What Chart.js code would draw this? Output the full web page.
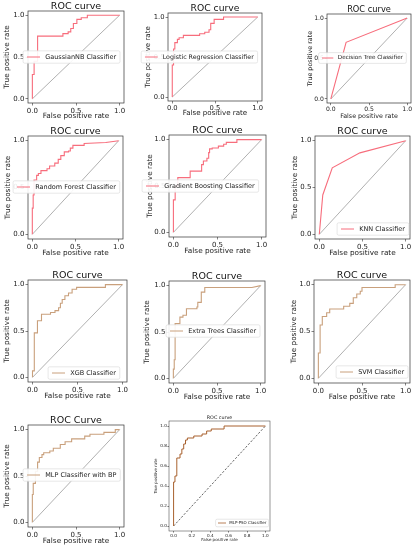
<!DOCTYPE html>
<html lang="en">
<head>
<meta charset="UTF-8">
<title>ROC curves</title>
<script src="https://cdn.jsdelivr.net/npm/chart.js"></script>
<style>
    html, body { margin: 0; padding: 0; background: #fff; overflow: hidden; }
    body { width: 418px; height: 550px; position: relative; }
    canvas { position: absolute; }
</style>
</head>
<body>
<script>
// ---- data ----
const coarseTicks = [0, 0.5, 1.0];
const fineTicks = [0, 0.2, 0.4, 0.6, 0.8, 1.0];
const chanceX = [0, 1];
const chanceY = [0, 1];

const gnbFpr = [0, 0, 0.02, 0.02, 0.06, 0.06, 0.35, 0.35, 0.41, 0.41, 0.44, 0.44, 0.47, 0.47, 0.51, 0.51, 0.56, 0.56, 0.63, 0.63, 1.0];
const gnbTpr = [0, 0.29, 0.29, 0.45, 0.45, 0.75, 0.75, 0.78, 0.78, 0.80, 0.80, 0.84, 0.84, 0.90, 0.90, 0.95, 0.95, 0.97, 0.97, 1.0, 1.0];

const lrFpr = [0, 0, 0.015, 0.015, 0.03, 0.03, 0.06, 0.06, 0.08, 0.08, 0.13, 0.13, 0.32, 0.32, 0.38, 0.38, 0.43, 0.43, 0.45, 0.45, 0.49, 0.49, 0.6, 0.6, 1];
const lrTpr = [0, 0.4, 0.4, 0.6, 0.6, 0.68, 0.68, 0.72, 0.72, 0.74, 0.74, 0.77, 0.77, 0.79, 0.79, 0.81, 0.81, 0.84, 0.84, 0.92, 0.92, 0.97, 0.97, 1, 1];

const dtFpr = [0, 0.2, 1];
const dtTpr = [0, 0.7, 1];

const rfFpr = [0, 0, 0.01, 0.01, 0.02, 0.02, 0.05, 0.05, 0.07, 0.07, 0.1, 0.1, 0.17, 0.17, 0.2, 0.2, 0.26, 0.26, 0.3, 0.3, 0.33, 0.33, 0.37, 0.37, 0.42, 0.42, 0.44, 0.44, 0.47, 0.47, 0.6, 0.6, 0.85, 1];
const rfTpr = [0, 0.28, 0.28, 0.42, 0.42, 0.58, 0.58, 0.63, 0.63, 0.65, 0.65, 0.68, 0.68, 0.7, 0.7, 0.73, 0.73, 0.76, 0.76, 0.8, 0.8, 0.84, 0.84, 0.88, 0.88, 0.89, 0.89, 0.92, 0.92, 0.95, 0.95, 0.97, 0.98, 1];

const gbFpr = [0, 0, 0.02, 0.02, 0.05, 0.05, 0.19, 0.19, 0.32, 0.32, 0.34, 0.34, 0.38, 0.38, 0.4, 0.4, 0.41, 0.41, 0.44, 0.44, 0.51, 0.51, 0.57, 0.57, 0.6, 0.6, 0.72, 0.72, 1];
const gbTpr = [0, 0.35, 0.35, 0.5, 0.5, 0.59, 0.59, 0.66, 0.66, 0.73, 0.73, 0.77, 0.77, 0.8, 0.8, 0.86, 0.86, 0.9, 0.9, 0.91, 0.91, 0.93, 0.93, 0.95, 0.95, 0.97, 0.97, 1, 1];

const knnFpr = [0, 0.04, 0.15, 0.47, 1];
const knnTpr = [0, 0.42, 0.71, 0.87, 1];

const xgbFpr = [0, 0, 0.02, 0.02, 0.055, 0.055, 0.1, 0.1, 0.2, 0.2, 0.25, 0.25, 0.29, 0.29, 0.31, 0.31, 0.33, 0.33, 0.36, 0.36, 0.4, 0.4, 0.44, 0.44, 0.49, 0.49, 0.81, 0.81, 1];
const xgbTpr = [0, 0.07, 0.07, 0.48, 0.48, 0.61, 0.61, 0.68, 0.68, 0.7, 0.7, 0.72, 0.72, 0.75, 0.75, 0.8, 0.8, 0.84, 0.84, 0.88, 0.88, 0.91, 0.91, 0.95, 0.95, 0.97, 0.97, 1, 1];

const etFpr = [0, 0, 0.01, 0.01, 0.02, 0.02, 0.075, 0.075, 0.11, 0.11, 0.15, 0.15, 0.27, 0.27, 0.28, 0.28, 0.32, 0.32, 0.36, 0.36, 0.9, 1];
const etTpr = [0, 0.1, 0.1, 0.2, 0.2, 0.59, 0.59, 0.66, 0.66, 0.68, 0.68, 0.75, 0.75, 0.77, 0.77, 0.82, 0.82, 0.93, 0.93, 0.98, 0.98, 1];

const svmFpr = [0, 0, 0.02, 0.02, 0.045, 0.045, 0.095, 0.095, 0.13, 0.13, 0.29, 0.29, 0.36, 0.36, 0.4, 0.4, 0.44, 0.44, 0.48, 0.48, 0.5, 0.5, 0.88, 0.88, 1];
const svmTpr = [0, 0.27, 0.27, 0.57, 0.57, 0.66, 0.66, 0.7, 0.7, 0.74, 0.74, 0.77, 0.77, 0.8, 0.8, 0.86, 0.86, 0.9, 0.9, 0.93, 0.93, 0.97, 0.97, 1, 1];

const mlpBpFpr = [0, 0, 0.01, 0.01, 0.035, 0.035, 0.06, 0.06, 0.08, 0.08, 0.11, 0.11, 0.13, 0.13, 0.2, 0.2, 0.24, 0.24, 0.32, 0.32, 0.375, 0.375, 0.45, 0.45, 0.6, 0.6, 0.66, 0.66, 0.82, 0.82, 0.95, 0.95, 1];
const mlpBpTpr = [0, 0.3, 0.3, 0.42, 0.42, 0.55, 0.55, 0.65, 0.65, 0.7, 0.7, 0.73, 0.73, 0.75, 0.75, 0.77, 0.77, 0.8, 0.8, 0.84, 0.84, 0.87, 0.87, 0.9, 0.9, 0.93, 0.93, 0.95, 0.95, 0.97, 0.97, 1, 1];

const mlpPsoFpr = [0, 0, 0.015, 0.015, 0.035, 0.035, 0.07, 0.07, 0.09, 0.09, 0.11, 0.11, 0.13, 0.13, 0.15, 0.15, 0.22, 0.22, 0.31, 0.31, 0.36, 0.36, 0.41, 0.41, 0.55, 0.55, 1];
const mlpPsoTpr = [0, 0.44, 0.44, 0.5, 0.5, 0.68, 0.68, 0.72, 0.72, 0.77, 0.77, 0.82, 0.82, 0.86, 0.86, 0.88, 0.88, 0.9, 0.9, 0.92, 0.92, 0.95, 0.95, 0.97, 0.97, 1, 1];

// ---- look ----
const FAMILY = '"DejaVu Sans", sans-serif';
const PINK = '#f76d7c';
const TAN = '#c9a07c';
const BROWN = '#a8612e';
const bigFonts = { title: 9.5, tick: 7, label: 7.3, legend: 6.5, gap: 2.5, tickLen: 2.5 };
const smallFonts = { title: 4.8, tick: 4.2, label: 4, legend: 4, gap: 2.4, tickLen: 1.6 };

// box = plot frame [left, top, width, height] in page px, k = font scale of that sub-image
const panels = [
    { title: 'ROC curve', name: 'GaussianNB Classifier', fpr: gnbFpr, tpr: gnbTpr, color: PINK, box: [28, 11, 96, 92], yLab: 7, xLab: 13, leg: [27, 57] },
    { title: 'ROC curve', name: 'Logistic Regression Classifier', fpr: lrFpr, tpr: lrTpr, color: PINK, box: [168, 13, 94, 88], yLab: 148, xLab: 12, leg: [145, 57], k: 0.97 },
    { title: 'ROC curve', name: 'Decision Tree Classifier', fpr: dtFpr, tpr: dtTpr, color: PINK, box: [327, 14, 84, 89], yLab: 310, xLab: 13.5, leg: [322, 58], k: 0.87 },
    { title: 'ROC curve', name: 'Random Forest Classifier', fpr: rfFpr, tpr: rfTpr, color: PINK, box: [28, 136, 95, 103], yLab: 8, xLab: 14.5, leg: [17, 187] },
    { title: 'ROC curve', name: 'Gradient Boosting Classifier', fpr: gbFpr, tpr: gbTpr, color: PINK, box: [169, 135, 97, 102], yLab: 150, xLab: 14.5, leg: [146, 186] },
    { title: 'ROC curve', name: 'KNN Classifier', fpr: knnFpr, tpr: knnTpr, color: PINK, box: [315, 136, 95, 103], yLab: 295, xLab: 14.5, leg: [341, 229] },
    { title: 'ROC curve', name: 'XGB Classifier', fpr: xgbFpr, tpr: xgbTpr, color: TAN, box: [28, 280, 99, 102], yLab: 7, xLab: 14.5, leg: [52, 373] },
    { title: 'ROC curve', name: 'Extra Trees Classifier', fpr: etFpr, tpr: etTpr, color: TAN, box: [169, 281, 96, 102], yLab: 147, xLab: 14.5, leg: [170, 331] },
    { title: 'ROC curve', name: 'SVM Classifier', fpr: svmFpr, tpr: svmTpr, color: TAN, box: [314, 280, 96, 103], yLab: 294, xLab: 14.5, leg: [340, 372] },
    { title: 'ROC Curve', name: 'MLP Classifier with BP', fpr: mlpBpFpr, tpr: mlpBpTpr, color: TAN, box: [28, 425, 96, 102], yLab: 7, xLab: 14.5, leg: [27, 475] },
    { title: 'ROC curve', name: 'MLP-PSO Classifier', fpr: mlpPsoFpr, tpr: mlpPsoTpr, color: BROWN, box: [169, 421, 101, 110], yLab: 156, xLab: 9, leg: [218, 523], small: true }
];

const toPoints = (xs, ys) => xs.map((x, i) => ({ x: x, y: ys[i] }));

function scaled(base, k) {
    const out = {};
    Object.keys(base).forEach(key => { out[key] = base[key] * k; });
    return out;
}

// frame, title and legend drawn on top, matplotlib style
const decor = {
    id: 'decor',
    afterDraw(chart, args, o) {
        const ctx = chart.ctx, a = chart.chartArea, f = o.fonts;
        ctx.save();
        ctx.strokeStyle = '#333';
        ctx.lineWidth = o.small ? 0.5 : 0.7;
        ctx.strokeRect(a.left, a.top, a.right - a.left, a.bottom - a.top);

        ctx.fillStyle = '#111';
        ctx.font = f.title + 'px ' + FAMILY;
        ctx.textAlign = 'center';
        ctx.textBaseline = 'alphabetic';
        ctx.fillText(o.title, (a.left + a.right) / 2, a.top - f.gap);

        // legend
        const fs = f.legend;
        ctx.font = fs + 'px ' + FAMILY;
        const tw = ctx.measureText(o.name).width;
        const lx = o.lx, ly = o.ly;
        const bx = lx - 0.6 * fs, by = ly - 0.95 * fs;
        const bw = 2.8 * fs + tw + 1.2 * fs, bh = 1.9 * fs;
        const r = 1.5;
        ctx.beginPath();
        ctx.moveTo(bx + r, by);
        ctx.lineTo(bx + bw - r, by);
        ctx.quadraticCurveTo(bx + bw, by, bx + bw, by + r);
        ctx.lineTo(bx + bw, by + bh - r);
        ctx.quadraticCurveTo(bx + bw, by + bh, bx + bw - r, by + bh);
        ctx.lineTo(bx + r, by + bh);
        ctx.quadraticCurveTo(bx, by + bh, bx, by + bh - r);
        ctx.lineTo(bx, by + r);
        ctx.quadraticCurveTo(bx, by, bx + r, by);
        ctx.closePath();
        ctx.fillStyle = 'rgba(255,255,255,0.9)';
        ctx.fill();
        ctx.strokeStyle = '#d6d6d6';
        ctx.lineWidth = 0.6;
        ctx.stroke();
        ctx.strokeStyle = o.color;
        ctx.lineWidth = o.small ? 0.8 : 1;
        ctx.beginPath();
        ctx.moveTo(lx, ly);
        ctx.lineTo(lx + 2 * fs, ly);
        ctx.stroke();
        ctx.fillStyle = '#222';
        ctx.textAlign = 'left';
        ctx.textBaseline = 'middle';
        ctx.fillText(o.name, lx + 2.8 * fs, ly);
        ctx.restore();
    }
};

panels.forEach(p => {
    const f = scaled(p.small ? smallFonts : bigFonts, p.k || 1);
    const lh = f.label * 1.2;
    const [bx, by, bw, bh] = p.box;
    const legLeft = p.leg[0] - 0.6 * f.legend;
    const left = Math.floor(Math.min(p.yLab - lh / 2, legLeft - 1.5));
    const yTitlePad = p.yLab - lh / 2 - left;
    const yw = bx - left;
    const top = Math.floor(by - (p.small ? 9 : 15));
    const pt = by - top;
    const xh0 = p.xLab + lh / 2;
    const H = Math.ceil(pt + bh + xh0);
    const xh = H - pt - bh;
    const xPadBottom = xh - xh0;
    const W = Math.ceil(yw + bw + 5);
    const pr = W - yw - bw;

    const canvas = document.createElement('canvas');
    canvas.width = W;
    canvas.height = H;
    canvas.style.left = left + 'px';
    canvas.style.top = top + 'px';
    canvas.style.width = W + 'px';
    canvas.style.height = H + 'px';
    document.body.appendChild(canvas);

    const tickVals = p.small ? fineTicks : coarseTicks;
    const axis = (titleText, titlePad, fit) => ({
        type: 'linear',
        min: -0.05,
        max: 1.05,
        afterBuildTicks: s => { s.ticks = tickVals.map(v => ({ value: v })); },
        afterFit: fit,
        ticks: {
            autoSkip: false,
            maxRotation: 0,
            padding: p.small ? 0.5 : 1,
            color: '#222',
            font: { family: FAMILY, size: f.tick },
            callback: v => Number(v).toFixed(1)
        },
        grid: { display: true, drawOnChartArea: false, drawTicks: true, tickLength: f.tickLen, color: '#333', lineWidth: 0.6 },
        border: { display: false },
        title: { display: true, text: titleText, color: '#222', font: { family: FAMILY, size: f.label }, padding: titlePad }
    });

    new Chart(canvas, {
        type: 'scatter',
        data: {
            datasets: [
                {
                    data: toPoints(p.fpr, p.tpr),
                    showLine: true,
                    borderColor: p.color,
                    borderWidth: p.small ? 1 : 1.1,
                    pointRadius: 0,
                    tension: 0
                },
                {
                    data: toPoints(chanceX, chanceY),
                    showLine: true,
                    borderColor: p.small ? '#222' : '#7a7a7a',
                    borderWidth: p.small ? 0.7 : 0.6,
                    borderDash: p.small ? [2.2, 1.6] : [],
                    pointRadius: 0
                }
            ]
        },
        options: {
            responsive: false,
            animation: false,
            events: [],
            layout: { padding: { top: pt, right: pr, left: 0, bottom: 0 } },
            scales: {
                x: axis('False positive rate', { top: 0, bottom: xPadBottom }, s => { s.height = xh; }),
                y: axis('True positive rate', { top: yTitlePad, bottom: 0 }, s => { s.width = yw; })
            },
            plugins: {
                legend: { display: false },
                tooltip: { enabled: false },
                decor: { fonts: f, small: !!p.small, title: p.title, name: p.name, color: p.color, lx: p.leg[0] - left, ly: p.leg[1] - top }
            }
        },
        plugins: [decor]
    });
});
</script>
</body>
</html>
